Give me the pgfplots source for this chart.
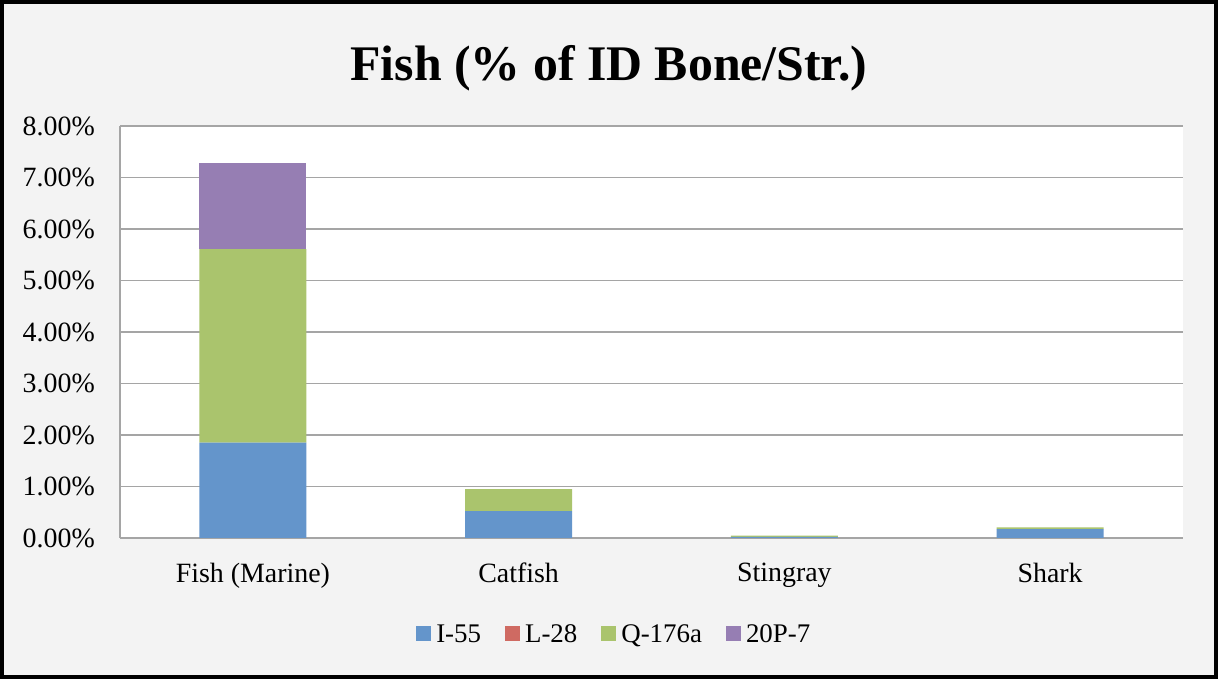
\documentclass[border=0pt]{standalone}
\usepackage{pgfplots}
\pgfplotsset{compat=1.18}
\usepackage{fontspec}
\setmainfont{Liberation Serif}
\definecolor{bgc}{HTML}{F3F3F3}
\definecolor{gridc}{HTML}{A5A5A5}
\definecolor{cblue}{HTML}{6495CB}
\definecolor{cred}{HTML}{CF6A62}
\definecolor{cgreen}{HTML}{AAC46D}
\definecolor{cpurple}{HTML}{967EB3}
\begin{document}
\begin{tikzpicture}[x=1bp,y=1bp]
\useasboundingbox (0,0) rectangle (1218,679);
\fill[bgc] (0,0) rectangle (1218,679);
\fill[white] (120,141) rectangle (1183,553);
\draw[line width=4bp] (2,2) rectangle (1216,677);
\node[font=\fontsize{50}{56}\selectfont\bfseries] at (609,611) {Fish (\% of ID Bone/Str.)};
\begin{axis}[
  at={(120bp,141bp)}, anchor=south west,
  scale only axis, width=1063bp, height=412bp,
  ybar stacked, bar width=107bp,
  xmin=-0.5, xmax=3.5, ymin=0, ymax=8,
  xtick={0,1,2,3},
  xticklabels={Fish (Marine),Catfish,Stingray,Shark},
  ytick={0,1,...,8},
  ymajorgrids,
  grid style={gridc, line width=1.5bp},
  axis x line*=bottom, axis y line*=left,
  axis line style={gridc, line width=1.5bp, -},
  major tick length=0pt,
  /pgf/number format/assume math mode=true,
  yticklabel={\pgfmathprintnumber[fixed,fixed zerofill,precision=2]{\tick}\%},
  yticklabel style={font=\fontsize{28}{32}\selectfont, anchor=east, inner sep=0pt, xshift=-25bp},
  xticklabel style={font=\fontsize{28}{32}\selectfont, anchor=north, inner sep=0pt, yshift=-25bp},
  legend style={at={(0.465,-0.233)}, anchor=center, draw=none, fill=none,
    legend columns=-1, font=\fontsize{27}{30}\selectfont,
    /tikz/every even column/.append style={column sep=22bp},
    /tikz/every odd column/.append style={column sep=3bp},
    legend cell align=left},
  legend image code/.code={\fill[#1] (0bp,-7bp) rectangle (15bp,8bp);},
  every axis plot/.append style={draw=none},
]
\addplot[fill=cblue] coordinates {(0,1.85) (1,0.52) (2,0.02) (3,0.17)};
\addplot[fill=cred] coordinates {(0,0) (1,0) (2,0) (3,0)};
\addplot[fill=cgreen] coordinates {(0,3.76) (1,0.43) (2,0.025) (3,0.035)};
\addplot[fill=cpurple] coordinates {(0,1.67) (1,0) (2,0) (3,0)};
\legend{I-55,L-28,Q-176a,20P-7}
\end{axis}
\end{tikzpicture}
\end{document}
